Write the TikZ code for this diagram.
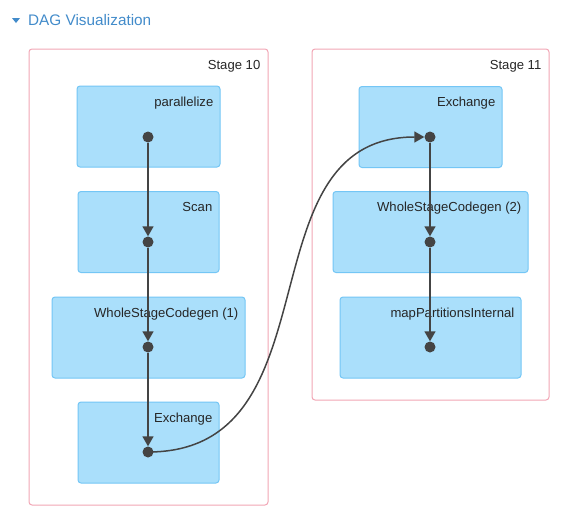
\documentclass[tikz,border=0pt]{standalone}
\usepackage{fontspec}
\setmainfont{Liberation Sans}
\usetikzlibrary{arrows.meta}

\definecolor{linkblue}{RGB}{66,139,202}
\definecolor{rddfill}{RGB}{170,223,251}
\definecolor{rddline}{RGB}{116,198,245}
\definecolor{stageline}{RGB}{242,166,181}
\definecolor{edgegray}{RGB}{68,68,68}

\tikzset{
  stage/.style={draw=stageline, fill=white, rounded corners=3pt, line width=1pt, inner sep=0pt},
  rdd/.style={draw=rddline, fill=rddfill, rounded corners=3pt, line width=1pt, inner sep=0pt},
  lbl/.style={anchor=base east, inner sep=0pt, font=\fontsize{13.1}{15}\selectfont, text=black!85},
  dot/.style={circle, fill=edgegray, inner sep=0pt, minimum size=11pt},
  edge/.style={draw=edgegray, line width=1.5pt, -{Triangle[length=10pt,width=11pt]}}
}

\begin{document}
\begin{tikzpicture}[x=1pt,y=-1pt]
      \useasboundingbox (0,0) rectangle (569,522);

      % title
      \fill[linkblue] (12,18) -- (20,18) -- (16,23) -- cycle;
      \node (title) [anchor=west, inner sep=0pt, text=linkblue, font=\fontsize{15.3}{18}\selectfont] at (28,20) {DAG Visualization};

      % stages
      \begin{scope}[every node/.style={stage}]
        \node (st10) [minimum width=239pt, minimum height=456pt] at (148.5,277) {};
        \node (st11) [minimum width=237pt, minimum height=351pt] at (430.5,224.5) {};
      \end{scope}
      \node[lbl] at ([xshift=-8pt,yshift=-21pt]st10.north east) {Stage 10};
      \node[lbl] at ([xshift=-8pt,yshift=-21pt]st11.north east) {Stage 11};

      % operators
      \begin{scope}[every node/.style={rdd, minimum height=81pt}]
        \node (par)  [minimum width=143pt] at (148.5,126.5) {};
        \node (scan) [minimum width=141pt] at (148.5,232) {};
        \node (wsc1) [minimum width=193pt] at (148.5,337.5) {};
        \node (exA)  [minimum width=141pt] at (148.5,442.5) {};
        \node (exB)  [minimum width=143pt] at (430.5,127) {};
        \node (wsc2) [minimum width=195pt] at (430.5,232) {};
        \node (map)  [minimum width=181pt] at (430.5,337.5) {};
      \end{scope}
      \node[lbl] at ([xshift=-7pt,yshift=-20.5pt]par.north east)  {parallelize};
      \node[lbl] at ([xshift=-7pt,yshift=-20.5pt]scan.north east) {Scan};
      \node[lbl] at ([xshift=-7pt,yshift=-20.5pt]wsc1.north east) {WholeStageCodegen (1)};
      \node[lbl] at ([xshift=-7pt,yshift=-20.5pt]exA.north east)  {Exchange};
      \node[lbl] at ([xshift=-7pt,yshift=-20.5pt]exB.north east)  {Exchange};
      \node[lbl] at ([xshift=-7pt,yshift=-20.5pt]wsc2.north east) {WholeStageCodegen (2)};
      \node[lbl] at ([xshift=-7pt,yshift=-20.5pt]map.north east)  {mapPartitionsInternal};

      % dots
      \begin{scope}[every node/.style={dot}]
        \node (d1) at (148,137) {};
        \node (d2) at (148,242) {};
        \node (d3) at (148,347) {};
        \node (d4) at (148,452) {};
        \node (d5) at (430,137) {};
        \node (d6) at (430,242) {};
        \node (d7) at (430,347) {};
      \end{scope}

      % edges
      \path[edge] (d1) -- (d2);
      \path[edge] (d2) -- (d3);
      \path[edge] (d3) -- (d4);
      \path[edge] (d4.center) .. controls (340,452) and (240,137) .. (d5);
      \path[edge] (d5) -- (d6);
      \path[edge] (d6) -- (d7);

\end{tikzpicture}
\end{document}
